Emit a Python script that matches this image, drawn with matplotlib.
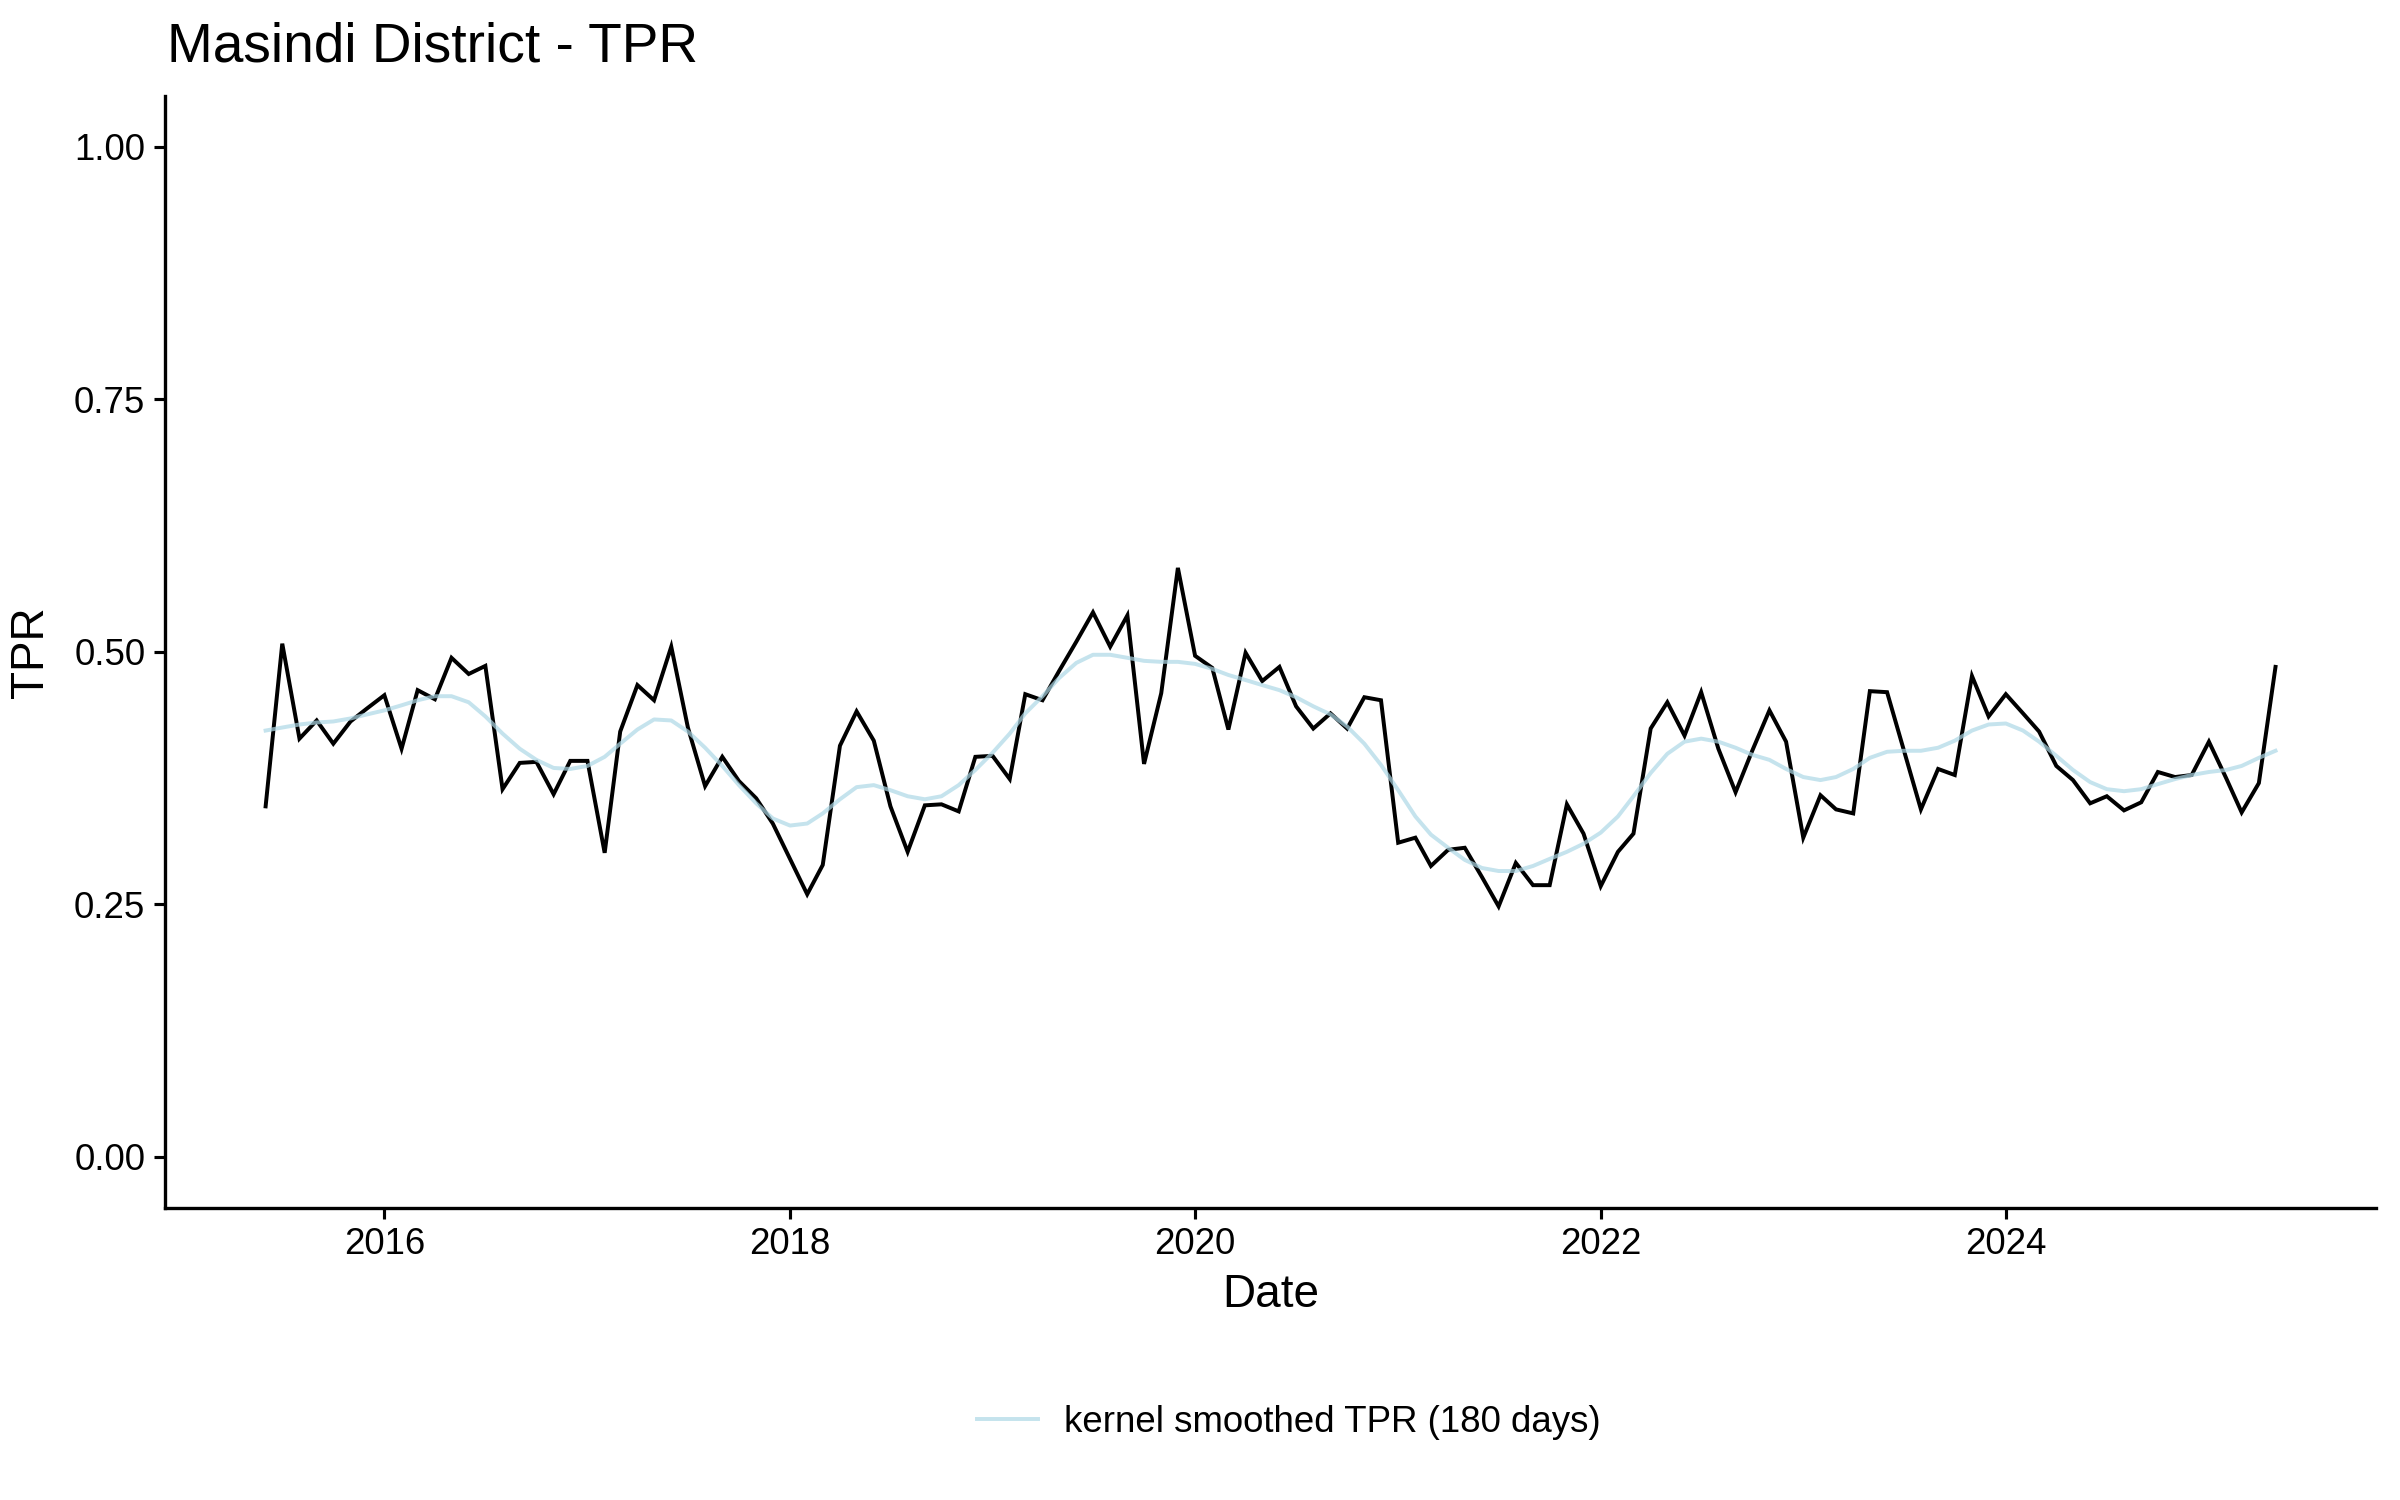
import matplotlib
matplotlib.use("Agg")
import matplotlib.pyplot as plt
import matplotlib.dates as mdates
import pandas as pd

plt.rcParams['font.family'] = ['Liberation Sans', 'DejaVu Sans']

# ---- data ----
start_month = "2015-06-01"
n_months = 120
dates = pd.date_range(start_month, periods=n_months, freq="MS")

tpr = [0.347, 0.508, 0.414, 0.432, 0.409, 0.431, 0.444, 0.457, 0.404, 0.462,
       0.453, 0.494, 0.478, 0.486, 0.364, 0.390, 0.391, 0.359, 0.392, 0.392,
       0.301, 0.421, 0.467, 0.452, 0.505, 0.425, 0.367, 0.396, 0.372, 0.355,
       0.330, 0.295, 0.260, 0.289, 0.407, 0.441, 0.412, 0.347, 0.302, 0.348,
       0.349, 0.342, 0.396, 0.397, 0.374, 0.458, 0.452, 0.481, 0.510, 0.539,
       0.505, 0.536, 0.389, 0.459, 0.583, 0.496, 0.484, 0.423, 0.499, 0.471,
       0.485, 0.446, 0.424, 0.439, 0.424, 0.455, 0.452, 0.311, 0.316, 0.288,
       0.304, 0.306, 0.277, 0.248, 0.291, 0.269, 0.269, 0.349, 0.320, 0.268,
       0.302, 0.320, 0.424, 0.450, 0.417, 0.460, 0.404, 0.361, 0.402, 0.442,
       0.411, 0.316, 0.358, 0.344, 0.340, 0.461, 0.460, 0.403, 0.344, 0.384,
       0.378, 0.476, 0.436, 0.458, 0.439, 0.421, 0.387, 0.373, 0.350, 0.357,
       0.343, 0.351, 0.381, 0.376, 0.378, 0.411, 0.375, 0.341, 0.370, 0.485]

tpr_smooth = [0.422, 0.425, 0.428, 0.430, 0.431, 0.434, 0.438, 0.442, 0.447, 0.452,
              0.456, 0.456, 0.450, 0.436, 0.419, 0.404, 0.393, 0.385, 0.384, 0.387,
              0.396, 0.409, 0.423, 0.433, 0.432, 0.421, 0.405, 0.387, 0.368, 0.350,
              0.335, 0.328, 0.330, 0.340, 0.354, 0.366, 0.368, 0.363, 0.357, 0.354,
              0.357, 0.368, 0.383, 0.400, 0.419, 0.439, 0.456, 0.474, 0.489, 0.497,
              0.497, 0.494, 0.491, 0.490, 0.490, 0.488, 0.483, 0.477, 0.472, 0.467,
              0.462, 0.455, 0.446, 0.438, 0.426, 0.409, 0.388, 0.363, 0.337, 0.319,
              0.306, 0.294, 0.286, 0.283, 0.283, 0.288, 0.295, 0.302, 0.310, 0.321,
              0.337, 0.357, 0.380, 0.399, 0.411, 0.414, 0.411, 0.405, 0.398, 0.393,
              0.384, 0.376, 0.373, 0.376, 0.384, 0.395, 0.401, 0.402, 0.402, 0.405,
              0.412, 0.422, 0.428, 0.429, 0.422, 0.411, 0.397, 0.383, 0.371, 0.364,
              0.362, 0.364, 0.369, 0.374, 0.378, 0.381, 0.383, 0.387, 0.395, 0.402]

title = "Masindi District - TPR"
x_label = "Date"
y_label = "TPR"
legend_label = "kernel smoothed TPR (180 days)"
y_ticks = [0.00, 0.25, 0.50, 0.75, 1.00]
x_tick_years = [2016, 2018, 2020, 2022, 2024]

# ---- figure ----
fig = plt.figure(figsize=(16, 10), dpi=150)
ax = fig.add_axes([0.0688, 0.195, 0.9212, 0.741])

ax.plot(dates, tpr, color="black", lw=1.9, solid_joinstyle="miter", zorder=2)
smooth_line, = ax.plot(dates, tpr_smooth, color="lightblue", alpha=0.7, lw=1.9,
                       zorder=3, label=legend_label)

# limits with ggplot-style expansion
d0 = mdates.date2num(dates[0])
d1 = mdates.date2num(dates[-1])
pad = (d1 - d0) * 0.05
ax.set_xlim(d0 - pad, d1 + pad)
ax.set_ylim(-0.05, 1.05)

ax.set_yticks(y_ticks)
ax.set_yticklabels([f"{v:.2f}" for v in y_ticks])
ax.set_xticks([mdates.date2num(pd.Timestamp(f"{y}-01-01")) for y in x_tick_years])
ax.set_xticklabels([str(y) for y in x_tick_years])

for s in ["top", "right"]:
    ax.spines[s].set_visible(False)
for s in ["left", "bottom"]:
    ax.spines[s].set_linewidth(1.6)
    ax.spines[s].set_color("black")

ax.tick_params(axis="both", length=5.5, width=1.5, color="black",
               labelsize=17.6, labelcolor="black", pad=4)

ax.set_xlabel(x_label, fontsize=22, labelpad=5)
ax.set_ylabel(y_label, fontsize=22, labelpad=10)

fig.text(0.0695, 1 - 48 / 1500, title, fontsize=26.4, ha="left", va="center")

fig.legend(handles=[smooth_line], loc="center", bbox_to_anchor=(0.537, 0.052),
           frameon=False, fontsize=17.6, handlelength=1.65, handletextpad=0.7)

fig.savefig("out.png", dpi=150, facecolor="white")
